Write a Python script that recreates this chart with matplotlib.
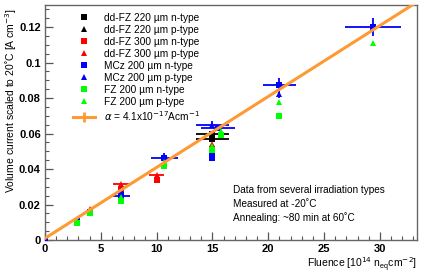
import numpy as np
import matplotlib.pyplot as plt
from matplotlib.lines import Line2D

plt.rcParams['font.family'] = ['Liberation Sans', 'DejaVu Sans']

# ---- data (fluence in 1e14 neq/cm2, current in A/cm3)
# each series: x, y, x error, y error
ddfz220_n_x = [2.9, 4.0, 6.8, 15.0, 15.0]
ddfz220_n_y = [0.0105, 0.016, 0.027, 0.057, 0.0595]
ddfz220_n_xe = [0, 0, 0, 1.5, 1.5]
ddfz220_n_ye = [0, 0, 0, 0, 0]

ddfz220_p_x = [4.0, 6.8, 15.0]
ddfz220_p_y = [0.0165, 0.0285, 0.058]
ddfz220_p_xe = [0, 0, 0]
ddfz220_p_ye = [0, 0, 0]

ddfz300_n_x = [6.8, 10.0, 15.0]
ddfz300_n_y = [0.029, 0.034, 0.0515]
ddfz300_n_xe = [0, 0, 0]
ddfz300_n_ye = [0, 0, 0]

ddfz300_p_x = [4.0, 6.8, 10.0, 15.0]
ddfz300_p_y = [0.0175, 0.0315, 0.0365, 0.054]
ddfz300_p_xe = [0, 0.7, 0.7, 0]
ddfz300_p_ye = [0, 0, 0, 0]

mcz_n_x = [0.0, 2.9, 6.8, 10.7, 15.5, 15.0, 15.0, 21.0, 29.4]
mcz_n_y = [0.0, 0.011, 0.025, 0.046, 0.063, 0.048, 0.046, 0.0875, 0.120]
mcz_n_xe = [0, 0, 0.8, 1.2, 1.5, 0, 0, 1.5, 2.5]
mcz_n_ye = [0, 0, 0, 0, 0, 0, 0, 0.004, 0.005]

mcz_p_x = [2.9, 6.8, 10.7, 15.0, 15.0, 21.0]
mcz_p_y = [0.0115, 0.028, 0.047, 0.065, 0.050, 0.082]
mcz_p_xe = [0, 0, 0, 1.5, 0, 0]
mcz_p_ye = [0, 0.002, 0.002, 0.002, 0, 0.002]

fz200_n_x = [2.9, 4.0, 6.8, 10.7, 15.0, 15.8, 21.0]
fz200_n_y = [0.0095, 0.015, 0.022, 0.042, 0.051, 0.059, 0.070]
fz200_n_xe = [0, 0, 0, 0, 0, 0, 0]
fz200_n_ye = [0, 0, 0, 0, 0, 0, 0]

fz200_p_x = [2.9, 4.0, 6.8, 10.7, 15.0, 15.8, 21.0, 29.4]
fz200_p_y = [0.0105, 0.016, 0.024, 0.044, 0.053, 0.0615, 0.078, 0.111]
fz200_p_xe = [0, 0, 0, 0, 0, 0, 0, 0]
fz200_p_ye = [0, 0, 0, 0, 0, 0, 0, 0]

series = [
    ('dd-FZ 220 µm n-type', 'black', 's', ddfz220_n_x, ddfz220_n_y, ddfz220_n_xe, ddfz220_n_ye),
    ('dd-FZ 220 µm p-type', 'black', '^', ddfz220_p_x, ddfz220_p_y, ddfz220_p_xe, ddfz220_p_ye),
    ('dd-FZ 300 µm n-type', '#ff0000', 's', ddfz300_n_x, ddfz300_n_y, ddfz300_n_xe, ddfz300_n_ye),
    ('dd-FZ 300 µm p-type', '#ff0000', '^', ddfz300_p_x, ddfz300_p_y, ddfz300_p_xe, ddfz300_p_ye),
    ('MCz 200 µm n-type', '#0000ff', 's', mcz_n_x, mcz_n_y, mcz_n_xe, mcz_n_ye),
    ('MCz 200 µm p-type', '#0000ff', '^', mcz_p_x, mcz_p_y, mcz_p_xe, mcz_p_ye),
    ('FZ 200 µm n-type', '#00ff00', 's', fz200_n_x, fz200_n_y, fz200_n_xe, fz200_n_ye),
    ('FZ 200 µm p-type', '#00ff00', '^', fz200_p_x, fz200_p_y, fz200_p_xe, fz200_p_ye),
]

# linear fit as drawn (end points)
fit_x = [0.0, 33.3]
fit_y = [0.001, 0.134]

fig = plt.figure(figsize=(4.24, 2.76), dpi=100)
ax = fig.add_axes([0.106, 0.130, 0.877, 0.852])

handles = []
for label, col, mk, x, y, xe, ye in series:
    ax.errorbar(x, y, xerr=xe, yerr=ye, fmt='none', ecolor=col, elinewidth=1.3,
                capsize=0, zorder=2, clip_on=False)
    ax.plot(x, y, linestyle='none', marker=mk, color=col, markersize=4.5,
            markeredgewidth=0, zorder=3)
    handles.append(Line2D([], [], linestyle='none', marker=mk, color=col,
                          markersize=5, markeredgewidth=0, label=label))

ax.plot(fit_x, fit_y, color='#ff9933', lw=2.2, zorder=4)
handles.append(Line2D([], [], color='#ff9933', lw=2.2, marker='|', markersize=7,
                      markeredgewidth=2, label=r'$\alpha$ = 4.1x10$^{-17}$Acm$^{-1}$'))

ax.set_xlim(0, 33.3)
ax.set_ylim(0, 0.1324)
ax.set_xticks([0, 5, 10, 15, 20, 25, 30])
ax.set_xticks(np.arange(0, 34, 1), minor=True)
ax.set_yticks([0, 0.02, 0.04, 0.06, 0.08, 0.1, 0.12])
ax.set_yticklabels(['0', '0.02', '0.04', '0.06', '0.08', '0.1', '0.12'])
ax.set_yticks(np.arange(0, 0.1321, 0.005), minor=True)
ax.tick_params(which='both', direction='in', labelsize=8, pad=3, color='#555555')
ax.tick_params(which='major', length=6, width=0.9)
ax.tick_params(which='minor', length=3, width=0.8)
for t in ax.get_xticklabels() + ax.get_yticklabels():
    t.set_fontweight('bold')
for s in ax.spines.values():
    s.set_color('#666666')
    s.set_linewidth(1.0)

ax.set_xlabel('Fluence [10$^{14}$ n$_{\\mathregular{eq}}$cm$^{-2}$]', fontsize=7.5,
              loc='right', labelpad=1)
fig.text(0.008, 0.97, 'Volume current scaled to 20˚C [A cm$^{-3}$]', fontsize=7.5,
         rotation=90, ha='left', va='top')

ax.legend(handles=handles, loc='upper left', bbox_to_anchor=(0.065, 0.985),
          frameon=False, fontsize=7.3, handlelength=2.2, handletextpad=0.8,
          labelspacing=0.2, borderaxespad=0)

ax.text(0.505, 0.153, 'Data from several irradiation types\nMeasured at -20˚C\nAnnealing: ~80 min at 60˚C',
        transform=ax.transAxes, fontsize=7.2, va='center', ha='left', linespacing=1.45)

fig.savefig('out.png', dpi=100)
